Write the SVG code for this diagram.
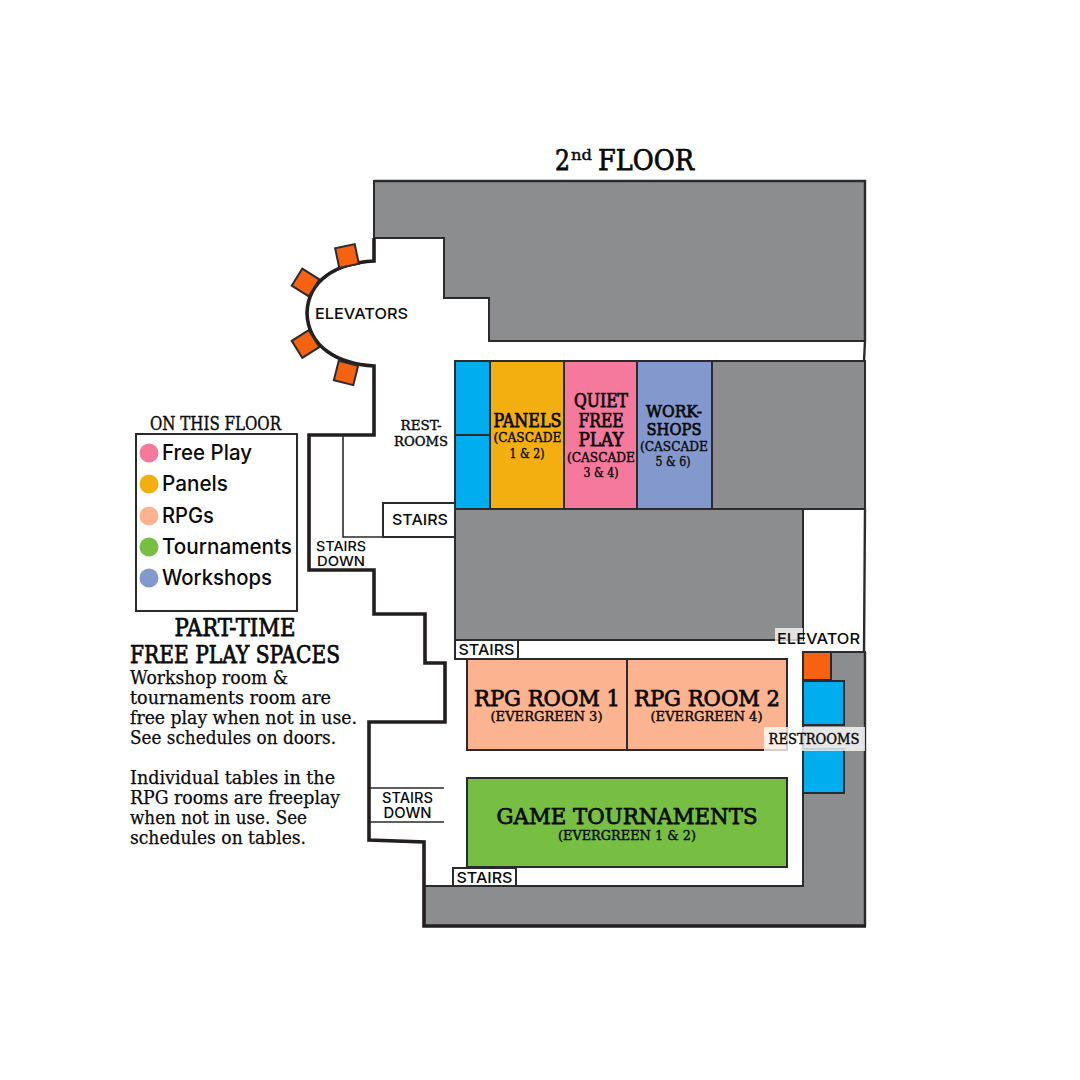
<svg xmlns="http://www.w3.org/2000/svg" width="1080" height="1080" viewBox="0 0 1080 1080">
<style>
.room{stroke:#2b2a2c;stroke-width:2}
.gray{fill:#8c8d8f}
.blue{fill:#00aeef}
.orange{fill:#f6620f}
.wall{fill:none;stroke:#231f20;stroke-width:3.6}
.edge{fill:none;stroke:#2b2a2c;stroke-width:2.4}
.thin{fill:none;stroke:#2b2a2c;stroke-width:1.6}
.s{font-family:"DejaVu Serif","Liberation Serif",serif;font-weight:400;fill:#0a0a0a;stroke:#0a0a0a;stroke-width:.75;text-anchor:middle}
.t{stroke-width:.4}
.b{font-family:"DejaVu Serif","Liberation Serif",serif;fill:#0a0a0a;stroke:#0a0a0a;stroke-width:.25}
.r{font-family:"Inter","Open Sans",sans-serif;font-weight:500;fill:#0a0a0a}
.m{text-anchor:middle}
</style>
<rect width="1080" height="1080" fill="#fff"/>
<g id="floor-shapes">
<path class="room gray" d="M374,181H865V341H489V298H444V238H374Z"/>
<path class="room gray" d="M712,361H865V509H712Z"/>
<path class="room gray" d="M455,509H803V640H455Z"/>
<path class="room gray" d="M424,886H803V652H865V926H424Z"/>
</g>
<g id="walls">
<path class="edge" d="M374,181H865V341L864,361M865,509L864,652M865,652V926"/>
<path class="wall" d="M374,238V261C338,263 308,279 307,313C308,347 338,364 374,366V435H309V570H374V614H425V663H445V722H369V840L424,842V926H866"/>
<path class="thin" d="M343,435V537H455"/>
<path class="thin" d="M370,788H444M370,822H444"/>
</g>
<g id="elevators">
<rect class="room orange" x="337" y="246" width="20" height="20" transform="rotate(-12 347 256)"/>
<rect class="room orange" x="295.500" y="272.500" width="20" height="20" transform="rotate(32 305.500 282.500)"/>
<rect class="room orange" x="295.500" y="334" width="20" height="20" transform="rotate(-32 305.500 344)"/>
<rect class="room orange" x="336" y="363" width="20" height="20" transform="rotate(14 346 373)"/>
<text class="r m" x="361.500" y="318.500" font-size="15" textLength="93" lengthAdjust="spacingAndGlyphs">ELEVATORS</text>
</g>
<g id="restrooms-cascade">
<rect class="room blue" x="455" y="361" width="35" height="74"/>
<rect class="room blue" x="455" y="435" width="35" height="74"/>
<text class="s t" font-size="13" x="421" y="430" textLength="41" lengthAdjust="spacingAndGlyphs">REST-</text>
<text class="s t" font-size="13" x="421" y="446" textLength="54" lengthAdjust="spacingAndGlyphs">ROOMS</text>
</g>
<g id="panels">
<rect class="room" fill="#f3ae0f" x="490" y="361" width="74" height="148"/>
<text class="s" x="527.500" y="427" font-size="18" textLength="68" lengthAdjust="spacingAndGlyphs">PANELS</text>
<text class="s t" x="527.500" y="442" font-size="12.500" textLength="68" lengthAdjust="spacingAndGlyphs">(CASCADE</text>
<text class="s t" x="527" y="458" font-size="12.500" textLength="35" lengthAdjust="spacingAndGlyphs">1 &amp; 2)</text>
</g>
<g id="quiet-free-play">
<rect class="room" fill="#f4799d" x="564" y="361" width="73" height="148"/>
<text class="s" x="601" y="407" font-size="18" textLength="54" lengthAdjust="spacingAndGlyphs">QUIET</text>
<text class="s" x="601" y="427" font-size="18" textLength="45" lengthAdjust="spacingAndGlyphs">FREE</text>
<text class="s" x="601" y="446" font-size="18" textLength="45" lengthAdjust="spacingAndGlyphs">PLAY</text>
<text class="s t" x="601" y="462" font-size="12.500" textLength="68" lengthAdjust="spacingAndGlyphs">(CASCADE</text>
<text class="s t" x="601" y="477" font-size="12.500" textLength="35" lengthAdjust="spacingAndGlyphs">3 &amp; 4)</text>
</g>
<g id="workshops">
<rect class="room" fill="#8399ce" x="637" y="361" width="75" height="148"/>
<text class="s" x="674" y="417" font-size="17" textLength="56" lengthAdjust="spacingAndGlyphs">WORK-</text>
<text class="s" x="674" y="435" font-size="17" textLength="55" lengthAdjust="spacingAndGlyphs">SHOPS</text>
<text class="s t" x="674" y="451" font-size="12.500" textLength="68" lengthAdjust="spacingAndGlyphs">(CASCADE</text>
<text class="s t" x="673" y="466" font-size="12.500" textLength="35" lengthAdjust="spacingAndGlyphs">5 &amp; 6)</text>
</g>
<g id="stairs-upper">
<rect x="383" y="503" width="72" height="34" fill="#fff" class="room"/>
<text class="r m" x="420" y="525" font-size="15" textLength="56" lengthAdjust="spacingAndGlyphs">STAIRS</text>
<text class="r m" x="341" y="551" font-size="13.500" textLength="50" lengthAdjust="spacingAndGlyphs">STAIRS</text>
<text class="r m" x="341" y="566" font-size="13.500" textLength="48" lengthAdjust="spacingAndGlyphs">DOWN</text>
</g>
<g id="stairs-mid">
<rect x="455" y="640" width="63" height="19" fill="#fff" class="room"/>
<text class="r m" x="486.500" y="655" font-size="15" textLength="56" lengthAdjust="spacingAndGlyphs">STAIRS</text>
</g>
<g id="rpg-room-1">
<rect class="room" fill="#fbb48f" x="467" y="659" width="160" height="91"/>
<text class="s" x="547" y="706" font-size="22" textLength="146" lengthAdjust="spacingAndGlyphs">RPG ROOM 1</text>
<text class="s t" x="546.500" y="721" font-size="12.500" textLength="112" lengthAdjust="spacingAndGlyphs">(EVERGREEN 3)</text>
</g>
<g id="rpg-room-2">
<rect class="room" fill="#fbb48f" x="627" y="659" width="160" height="91"/>
<text class="s" x="707" y="706" font-size="22" textLength="146" lengthAdjust="spacingAndGlyphs">RPG ROOM 2</text>
<text class="s t" x="706.500" y="721" font-size="12.500" textLength="112" lengthAdjust="spacingAndGlyphs">(EVERGREEN 4)</text>
</g>
<g id="game-tournaments">
<rect class="room" fill="#76bf43" x="467" y="778" width="320" height="89"/>
<text class="s" x="627" y="824" font-size="22" textLength="261" lengthAdjust="spacingAndGlyphs">GAME TOURNAMENTS</text>
<text class="s t" x="627" y="840" font-size="12.500" textLength="138" lengthAdjust="spacingAndGlyphs">(EVERGREEN 1 &amp; 2)</text>
</g>
<g id="stairs-lower">
<text class="r m" x="407.500" y="803" font-size="14" textLength="51" lengthAdjust="spacingAndGlyphs">STAIRS</text>
<text class="r m" x="407.500" y="818" font-size="14" textLength="48" lengthAdjust="spacingAndGlyphs">DOWN</text>
<rect x="453" y="868" width="63" height="18" fill="#fff" class="room"/>
<text class="r m" x="484.500" y="883" font-size="15" textLength="56" lengthAdjust="spacingAndGlyphs">STAIRS</text>
</g>
<g id="east-side">
<rect class="room orange" x="803" y="652" width="28" height="28"/>
<rect class="room blue" x="803" y="681" width="41" height="44"/>
<rect class="room blue" x="803" y="749" width="41" height="44"/>
<rect x="775" y="628" width="28" height="20" fill="#fff" fill-opacity=".75"/>
<text class="r m" x="818.500" y="644" font-size="15" textLength="83" lengthAdjust="spacingAndGlyphs">ELEVATOR</text>
<rect x="764" y="727" width="101" height="24" fill="#fff" fill-opacity=".78"/>
<text class="s t" x="814" y="744" font-size="14" textLength="91" lengthAdjust="spacingAndGlyphs">RESTROOMS</text>
</g>
<g id="title">
<text class="s" x="555" y="170" font-size="27" style="text-anchor:start" textLength="15" lengthAdjust="spacingAndGlyphs">2</text>
<text class="s t" x="571" y="160" font-size="14" style="text-anchor:start" textLength="21" lengthAdjust="spacingAndGlyphs">nd</text>
<text class="s" x="598" y="170" font-size="27" style="text-anchor:start" textLength="96" lengthAdjust="spacingAndGlyphs">FLOOR</text>
</g>
<g id="legend">
<text class="s t" x="215.500" y="430" font-size="18" textLength="131" lengthAdjust="spacingAndGlyphs">ON THIS FLOOR</text>
<rect x="136" y="434" width="161" height="177" fill="#fff" class="room"/>
<circle cx="149" cy="453" r="9.500" fill="#f4799d"/><text class="r" x="162" y="459.500" font-size="21" textLength="90" lengthAdjust="spacingAndGlyphs">Free Play</text>
<circle cx="149" cy="484" r="9.500" fill="#f3ae0f"/><text class="r" x="162" y="491" font-size="21" textLength="66" lengthAdjust="spacingAndGlyphs">Panels</text>
<circle cx="149" cy="516" r="9.500" fill="#fbb48f"/><text class="r" x="162" y="522.500" font-size="21" textLength="52" lengthAdjust="spacingAndGlyphs">RPGs</text>
<circle cx="149" cy="547" r="9.500" fill="#76bf43"/><text class="r" x="162" y="554" font-size="21" textLength="130" lengthAdjust="spacingAndGlyphs">Tournaments</text>
<circle cx="149" cy="578" r="9.500" fill="#8399ce"/><text class="r" x="162" y="585" font-size="21" textLength="110" lengthAdjust="spacingAndGlyphs">Workshops</text>
</g>
<g id="notes">
<text class="s" x="235" y="636" font-size="24" textLength="121" lengthAdjust="spacingAndGlyphs">PART-TIME</text>
<text class="s" x="235" y="663" font-size="24" textLength="210" lengthAdjust="spacingAndGlyphs">FREE PLAY SPACES</text>
<g font-size="18">
<text class="b" x="130" y="684" textLength="158" lengthAdjust="spacingAndGlyphs">Workshop room &amp;</text>
<text class="b" x="130" y="704" textLength="201" lengthAdjust="spacingAndGlyphs">tournaments room are</text>
<text class="b" x="130" y="724" textLength="227" lengthAdjust="spacingAndGlyphs">free play when not in use.</text>
<text class="b" x="130" y="744" textLength="206" lengthAdjust="spacingAndGlyphs">See schedules on doors.</text>
<text class="b" x="130" y="784" textLength="205" lengthAdjust="spacingAndGlyphs">Individual tables in the</text>
<text class="b" x="130" y="804" textLength="210" lengthAdjust="spacingAndGlyphs">RPG rooms are freeplay</text>
<text class="b" x="130" y="824" textLength="177" lengthAdjust="spacingAndGlyphs">when not in use. See</text>
<text class="b" x="130" y="844" textLength="176" lengthAdjust="spacingAndGlyphs">schedules on tables.</text>
</g>
</g>
</svg>
